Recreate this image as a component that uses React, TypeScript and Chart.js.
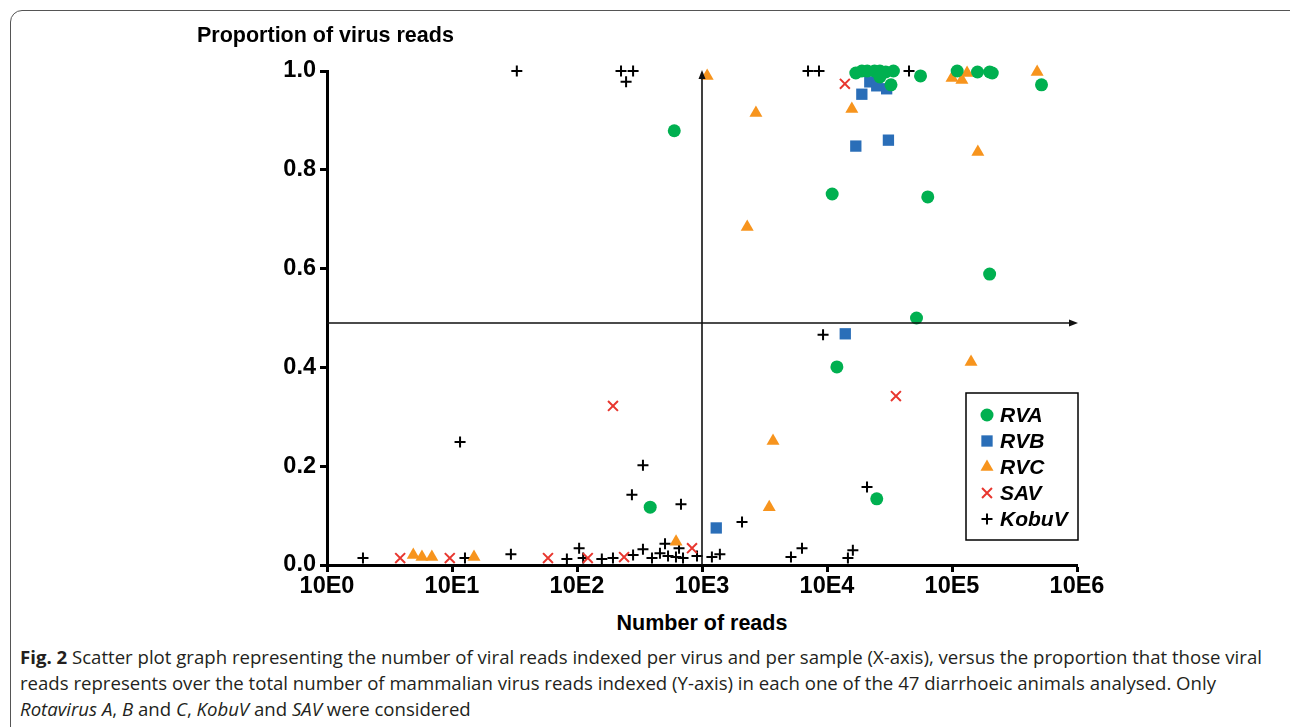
import React, { useEffect, useRef } from 'react';
import { Chart, registerables } from 'chart.js';
import { drawPoint } from 'chart.js/helpers';

Chart.register(...registerables);

// ---- data ----
const X_EXPONENTS = [0, 1, 2, 3, 4, 5, 6];
const Y_TICKS = [0, 0.2, 0.4, 0.6, 0.8, 1.0];
const SERIES_NAMES = ['RVA', 'RVB', 'RVC', 'SAV', 'KobuV'];

const rvaX = [600, 17000, 19000, 21000, 24000, 26500, 29500, 34000, 26500, 32500, 56000, 110000, 160000, 200000, 210000, 520000, 11000, 64000, 200000, 52000, 12000, 25000, 385];
const rvaY = [0.879, 0.996, 1.0, 1.0, 1.0, 1.0, 0.998, 1.0, 0.988, 0.972, 0.99, 1.0, 0.998, 0.998, 0.996, 0.972, 0.751, 0.745, 0.589, 0.5, 0.401, 0.134, 0.117];

const rvbX = [22000, 25000, 30000, 19000, 17000, 31000, 14000, 1300];
const rvbY = [0.978, 0.970, 0.964, 0.953, 0.848, 0.860, 0.468, 0.075];

const rvcX = [1100, 2700, 15800, 2300, 100000, 120000, 132000, 480000, 161000, 142000, 3700, 3450, 620, 4.9, 5.75, 6.9, 15];
const rvcY = [0.99, 0.915, 0.923, 0.684, 0.986, 0.982, 0.996, 0.998, 0.836, 0.411, 0.251, 0.117, 0.047, 0.02, 0.016, 0.016, 0.016];

const savX = [13900, 194, 35600, 3.85, 9.6, 58.6, 122, 238, 832];
const savY = [0.974, 0.322, 0.342, 0.014, 0.014, 0.014, 0.014, 0.016, 0.034];

const kobuX = [33, 225, 281, 247, 7050, 8630, 45300, 9300, 11.6, 337, 275, 679, 20900, 2090, 6310, 5150, 16100, 14700, 1200, 1390, 1.94, 12.7, 29.6, 83, 104, 112, 158, 194, 281, 337, 398, 461, 506, 535, 619, 655, 705, 912];
const kobuY = [1.0, 1.0, 1.0, 0.978, 1.0, 1.0, 1.0, 0.466, 0.249, 0.202, 0.142, 0.123, 0.158, 0.087, 0.034, 0.016, 0.03, 0.014, 0.016, 0.022, 0.014, 0.014, 0.022, 0.012, 0.034, 0.014, 0.012, 0.014, 0.02, 0.032, 0.014, 0.024, 0.043, 0.018, 0.016, 0.034, 0.014, 0.018];

const CROSS_X = 1000;
const CROSS_Y = 0.49;

const zip = (xs: number[], ys: number[]) => xs.map((x, i) => ({ x, y: ys[i] }));

const CANVAS_W = 1290;
const CANVAS_H = 600;
const FONT = '"Liberation Sans", Arial, sans-serif';

const crosshairPlugin = {
  id: 'crosshair',
  afterDatasetsDraw(chart: any) {
    const { ctx, scales } = chart;
    const xs = scales.x;
    const ys = scales.y;
    const cx = xs.getPixelForValue(CROSS_X);
    const cy = ys.getPixelForValue(CROSS_Y);
    const top = ys.getPixelForValue(1) - 1;
    const bottom = ys.getPixelForValue(0);
    const left = xs.getPixelForValue(1);
    const right = xs.getPixelForValue(1e6) + 1;
    ctx.save();
    ctx.strokeStyle = '#111';
    ctx.fillStyle = '#111';
    ctx.lineWidth = 1.6;
    ctx.beginPath();
    ctx.moveTo(cx, bottom);
    ctx.lineTo(cx, top + 6);
    ctx.moveTo(left, cy);
    ctx.lineTo(right - 6, cy);
    ctx.stroke();
    // arrow heads
    ctx.beginPath();
    ctx.moveTo(cx, top);
    ctx.lineTo(cx - 3.5, top + 9);
    ctx.lineTo(cx + 3.5, top + 9);
    ctx.closePath();
    ctx.fill();
    ctx.beginPath();
    ctx.moveTo(right, cy);
    ctx.lineTo(right - 9, cy - 3.5);
    ctx.lineTo(right - 9, cy + 3.5);
    ctx.closePath();
    ctx.fill();
    ctx.restore();
  },
};

const legendPlugin = {
  id: 'boxLegend',
  afterDraw(chart: any) {
    const { ctx } = chart;
    const bx = 966, by = 393, bw = 112, bh = 147;
    ctx.save();
    ctx.fillStyle = '#fff';
    ctx.fillRect(bx, by, bw, bh);
    ctx.lineWidth = 1.5;
    ctx.strokeStyle = '#000';
    ctx.strokeRect(bx, by, bw, bh);
    chart.data.datasets.forEach((ds: any, i: number) => {
      const y = by + 22 + i * 26;
      ctx.fillStyle = ds.backgroundColor;
      ctx.strokeStyle = ds.borderColor;
      ctx.lineWidth = ds.borderWidth;
      drawPoint(ctx, { pointStyle: ds.pointStyle, radius: ds.pointRadius, borderWidth: ds.borderWidth, rotation: 0 } as any, bx + 21, y);
      ctx.fillStyle = '#000';
      ctx.font = `italic bold 21px ${FONT}`;
      ctx.textBaseline = 'middle';
      ctx.textAlign = 'left';
      ctx.fillText(ds.label, bx + 34, y + 1);
    });
    ctx.restore();
  },
};

function ScatterChart() {
  const ref = useRef<HTMLCanvasElement | null>(null);
  useEffect(() => {
    if (!ref.current) return;
    const tickFont = { family: FONT, size: 23.5, weight: 'bold' as const };
    const chart = new Chart(ref.current, {
      type: 'scatter',
      data: {
        datasets: [
          { label: SERIES_NAMES[0], data: zip(rvaX, rvaY), pointStyle: 'circle', pointRadius: 6.5, backgroundColor: '#00B050', borderColor: '#00B050', borderWidth: 0, clip: false } as any,
          { label: SERIES_NAMES[1], data: zip(rvbX, rvbY), pointStyle: 'rect', pointRadius: 8, backgroundColor: '#2A6EB8', borderColor: '#2A6EB8', borderWidth: 0, clip: false } as any,
          { label: SERIES_NAMES[2], data: zip(rvcX, rvcY), pointStyle: 'triangle', pointRadius: 7.5, backgroundColor: '#F7941D', borderColor: '#F7941D', borderWidth: 0, clip: false } as any,
          { label: SERIES_NAMES[3], data: zip(savX, savY), pointStyle: 'crossRot', pointRadius: 7, backgroundColor: '#E8362E', borderColor: '#E8362E', borderWidth: 2, clip: false } as any,
          { label: SERIES_NAMES[4], data: zip(kobuX, kobuY), pointStyle: 'cross', pointRadius: 5.5, backgroundColor: '#000', borderColor: '#000', borderWidth: 2, clip: false } as any,
        ],
      },
      options: {
        animation: false,
        responsive: false,
        maintainAspectRatio: false,
        layout: { padding: { left: 0, top: 71, right: CANVAS_W - 1077, bottom: 0 } },
        plugins: { legend: { display: false }, tooltip: { enabled: false }, title: { display: false } },
        scales: {
          x: {
            type: 'logarithmic',
            min: 1,
            max: 1e6,
            afterBuildTicks: (s: any) => {
              s.ticks = X_EXPONENTS.map((e) => ({ value: Math.pow(10, e) }));
            },
            afterFit: (s: any) => {
              s.height = CANVAS_H - 565;
            },
            ticks: {
              callback: (v: any) => '10E' + Math.round(Math.log10(Number(v))),
              font: tickFont,
              color: '#000',
              padding: 0,
              maxRotation: 0,
              autoSkip: false,
            },
            grid: { drawOnChartArea: false, drawTicks: true, tickLength: 7, tickWidth: 3, tickColor: '#000' },
            border: { display: true, color: '#000', width: 3 },
          },
          y: {
            type: 'linear',
            min: 0,
            max: 1,
            afterBuildTicks: (s: any) => {
              s.ticks = Y_TICKS.map((v) => ({ value: v }));
            },
            afterFit: (s: any) => {
              s.width = 327;
            },
            ticks: {
              callback: (v: any) => Number(v).toFixed(1),
              font: tickFont,
              color: '#000',
              padding: 4,
            },
            grid: { drawOnChartArea: false, drawTicks: true, tickLength: 7, tickWidth: 3, tickColor: '#000' },
            border: { display: true, color: '#000', width: 3 },
          },
        },
      } as any,
      plugins: [crosshairPlugin, legendPlugin],
    });
    return () => chart.destroy();
  }, []);
  return <canvas ref={ref} width={CANVAS_W} height={CANVAS_H} style={{ position: 'absolute', left: 0, top: 0, display: 'block' }} />;
}

export default function App() {
  const captionStyle: React.CSSProperties = {
    position: 'absolute',
    left: 20,
    top: 644,
    fontFamily: '"Open Sans", "Noto Sans", sans-serif',
    fontSize: 18.6,
    lineHeight: '26px',
    color: '#231f20',
    whiteSpace: 'nowrap',
  };
  return (
    <div style={{ position: 'absolute', left: 0, top: 0, width: 1290, height: 727, overflow: 'hidden', background: '#fff' }}>
      <div style={{ position: 'absolute', left: 10, top: 10, width: 1300, height: 800, border: '1px solid #555', borderRadius: 12, boxSizing: 'border-box' }} />
      <ScatterChart />
      <div style={{ position: 'absolute', left: 197, top: 23, fontFamily: FONT, fontWeight: 'bold', fontSize: 21.5, color: '#000', whiteSpace: 'nowrap' }}>
        Proportion of virus reads
      </div>
      <div style={{ position: 'absolute', left: 702, top: 611, transform: 'translateX(-50%)', fontFamily: FONT, fontWeight: 'bold', fontSize: 21.5, color: '#000', whiteSpace: 'nowrap' }}>
        Number of reads
      </div>
      <div style={captionStyle}>
        <b>Fig. 2</b> Scatter plot graph representing the number of viral reads indexed per virus and per sample (X-axis), versus the proportion that those viral
        <br />
        reads represents over the total number of mammalian virus reads indexed (Y-axis) in each one of the 47 diarrhoeic animals analysed. Only
        <br />
        <i>Rotavirus A</i>, <i>B</i> and <i>C</i>, <i>KobuV</i> and <i>SAV</i> were considered
      </div>
    </div>
  );
}
